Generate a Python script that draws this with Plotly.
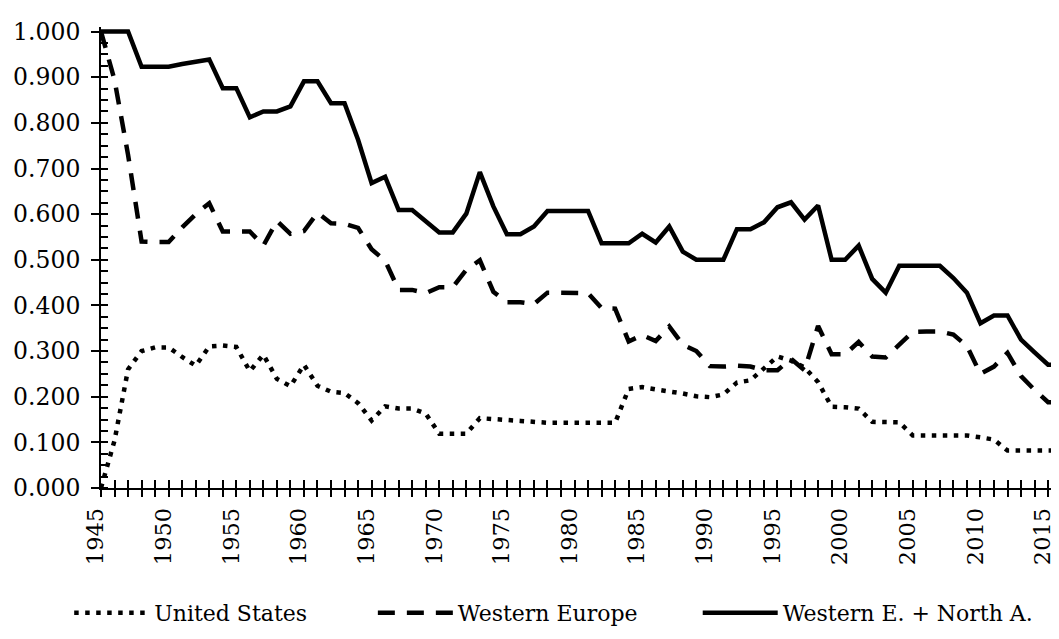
'''
Share of the total: United States, Western Europe, Western E. + North A., 1945-2016
'''

import plotly.graph_objects as go

years = list(range(1945, 2017))

# United States (dotted)
united_states = [
    0.000, 0.104, 0.260, 0.300, 0.308, 0.308, 0.287, 0.268, 0.310, 0.312,
    0.309, 0.256, 0.292, 0.239, 0.223, 0.270, 0.224, 0.211, 0.208, 0.186,
    0.148, 0.179, 0.174, 0.174, 0.163, 0.119, 0.119, 0.119, 0.153, 0.152,
    0.149, 0.147, 0.144, 0.143, 0.143, 0.143, 0.143, 0.143, 0.143, 0.217,
    0.221, 0.216, 0.212, 0.207, 0.201, 0.199, 0.205, 0.231, 0.236, 0.262,
    0.288, 0.279, 0.264, 0.232, 0.178, 0.177, 0.174, 0.145, 0.144, 0.144,
    0.115, 0.115, 0.115, 0.115, 0.115, 0.111, 0.106, 0.082, 0.082, 0.082,
    0.082, 0.082,
]

# Western Europe (dashed)
western_europe = [
    1.000, 0.894, 0.730, 0.540, 0.539, 0.539, 0.571, 0.600, 0.624, 0.562,
    0.562, 0.562, 0.531, 0.585, 0.557, 0.563, 0.603, 0.580, 0.579, 0.570,
    0.523, 0.498, 0.434, 0.434, 0.427, 0.440, 0.440, 0.478, 0.499, 0.430,
    0.407, 0.407, 0.403, 0.428, 0.428, 0.428, 0.427, 0.394, 0.393, 0.321,
    0.335, 0.322, 0.354, 0.314, 0.300, 0.267, 0.266, 0.268, 0.266, 0.258,
    0.258, 0.283, 0.258, 0.355, 0.293, 0.293, 0.320, 0.288, 0.286, 0.314,
    0.342, 0.343, 0.343, 0.336, 0.311, 0.250, 0.266, 0.296, 0.245, 0.215,
    0.188, 0.188,
]

# Western Europe + North America (solid)
we_na = [
    1.000, 1.000, 1.000, 0.923, 0.923, 0.923, 0.929, 0.934, 0.939, 0.876,
    0.876, 0.812, 0.825, 0.825, 0.836, 0.891, 0.891, 0.843, 0.843, 0.763,
    0.668, 0.682, 0.609, 0.609, 0.584, 0.560, 0.560, 0.601, 0.692, 0.617,
    0.556, 0.556, 0.573, 0.607, 0.607, 0.607, 0.607, 0.536, 0.536, 0.536,
    0.557, 0.538, 0.573, 0.518, 0.500, 0.500, 0.500, 0.567, 0.567, 0.582,
    0.615, 0.626, 0.588, 0.619, 0.500, 0.500, 0.531, 0.458, 0.428, 0.487,
    0.487, 0.487, 0.487, 0.460, 0.428, 0.361, 0.378, 0.378, 0.325, 0.297,
    0.270, 0.270,
]

tick_labels = [str(y) if y % 5 == 0 else '' for y in years]

FONT = 'DejaVu Serif'

data = [
    go.Scatter(x=years, y=united_states, name='United States', mode='lines',
               legend='legend',
               line=dict(color='black', width=4.5, dash='4.5px,6.5px')),
    go.Scatter(x=years, y=western_europe, name='Western Europe', mode='lines',
               legend='legend2',
               line=dict(color='black', width=4.5, dash='17px,12px')),
    go.Scatter(x=years, y=we_na, name='Western E. + North A.', mode='lines',
               legend='legend3',
               line=dict(color='black', width=4.5)),
    # empty trace that only carries the inner half of the crossing ticks
    go.Scatter(x=[], y=[], xaxis='x2', yaxis='y2', showlegend=False, hoverinfo='skip'),
]


def legend_box(x):
    # one legend per series so each entry can sit where the original puts it
    return dict(orientation='h', x=x, y=-0.271, xanchor='left', yanchor='middle',
                itemwidth=75, font=dict(family=FONT, size=22, color='black'))


layout = go.Layout(
    width=1059, height=639,
    margin=dict(l=93, r=2, t=19, b=159),
    paper_bgcolor='white', plot_bgcolor='white',
    font=dict(family=FONT, size=22, color='black'),
    showlegend=True,
    legend=legend_box(-0.033),
    legend2=legend_box(0.282),
    legend3=legend_box(0.619),
    xaxis=dict(range=[1945, 2016.25], tickmode='array', tickvals=years, ticktext=tick_labels,
               tickangle=-90, ticks='outside', ticklen=7, tickwidth=1.5, tickcolor='black',
               showline=True, linecolor='black', linewidth=1.8, showgrid=False, zeroline=False,
               ticklabelstandoff=2, ticklabelshift=-5, tickfont=dict(family=FONT, size=22.5)),
    xaxis2=dict(overlaying='x', anchor='y', side='bottom', range=[1945, 2016.25],
                tickmode='array', tickvals=years, ticks='inside', ticklen=8, tickwidth=1.5,
                tickcolor='black', showticklabels=False, showgrid=False, zeroline=False,
                showline=False),
    yaxis=dict(range=[0, 1.01], tickmode='linear', tick0=0, dtick=0.1, tickformat='.3f',
               ticks='outside', ticklen=8, tickwidth=1.5, tickcolor='black',
               minor=dict(dtick=0.025, ticks='inside', ticklen=7, tickwidth=1.5, tickcolor='black'),
               showline=True, linecolor='black', linewidth=1.8, showgrid=False, zeroline=False,
               ticklabelstandoff=6, tickfont=dict(family=FONT, size=23.5)),
    yaxis2=dict(overlaying='y', anchor='x', side='left', range=[0, 1.01], tickmode='linear',
                tick0=0, dtick=0.1, ticks='inside', ticklen=7, tickwidth=1.5, tickcolor='black',
                showticklabels=False, showgrid=False, zeroline=False, showline=False),
)

fig = go.Figure(data=data, layout=layout)
fig.write_html('out.html')
